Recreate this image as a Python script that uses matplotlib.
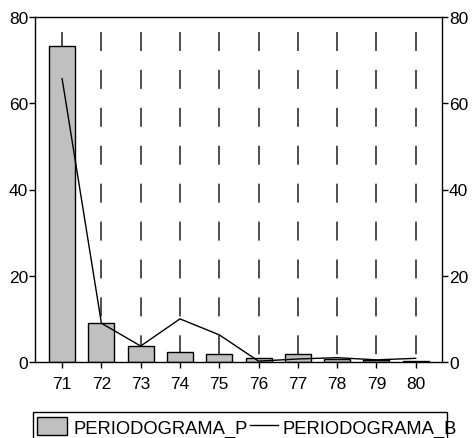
import numpy as np
import matplotlib
matplotlib.use('Agg')
import matplotlib.pyplot as plt
from matplotlib.patches import Rectangle
from matplotlib.lines import Line2D

plt.rcParams['font.family'] = ['Liberation Sans', 'DejaVu Sans']

# periodogram values per period
periods = ['71', '72', '73', '74', '75', '76', '77', '78', '79', '80']
periodograma_p = [73.3, 9.0, 3.8, 2.4, 1.8, 0.85, 1.8, 0.6, 0.35, 0.3]
periodograma_b = [65.7, 9.0, 3.7, 10.0, 6.3, 0.2, 0.7, 1.0, 0.5, 0.85]

W, H = 473, 439
fig = plt.figure(figsize=(W / 100, H / 100), dpi=100)
ax = fig.add_axes([35 / W, 1 - 363 / H, (442 - 35) / W, (363 - 18) / H])

x = np.arange(len(periods))

# dashed guides from the top down to zero
ax.vlines(x, 76.5, 0, colors='#404040', linewidth=1.3,
          linestyles=[(0, (10.5, 10.5))], zorder=1)

ax.bar(x, periodograma_p, width=0.66, color='#c0c0c0', edgecolor='black',
       linewidth=1.0, zorder=2)
ax.plot(x, periodograma_b, color='black', linewidth=1.0, zorder=3)

ax.set_xlim(-0.69, 9.67)
ax.set_ylim(0, 80)
ax.set_xticks(x)
ax.set_xticklabels(periods)
ax.set_yticks([0, 20, 40, 60, 80])

ax.tick_params(axis='y', which='both', direction='out', length=4, width=1,
               labelsize=12.5, left=True, right=True, labelleft=True,
               labelright=True, pad=1)
ax.tick_params(axis='x', direction='out', length=4, width=1,
               labelsize=12.5, pad=6, top=False)
for s in ax.spines.values():
    s.set_linewidth(1.0)

# legend box along the bottom
fig.patches.append(Rectangle((33 / W, -0.01), (447 - 33) / W, (1 - 413 / H) + 0.01,
                             transform=fig.transFigure, facecolor='white',
                             edgecolor='black', linewidth=1.0))
fig.patches.append(Rectangle((37 / W, 1 - 436 / H), 30 / W, 18 / H,
                             transform=fig.transFigure, facecolor='#c0c0c0',
                             edgecolor='black', linewidth=1.0))
fig.text(73 / W, 1 - 434 / H, 'PERIODOGRAMA_P', fontsize=13.2,
         va='baseline', ha='left')
fig.lines.append(Line2D([250 / W, 278 / W], [1 - 426 / H, 1 - 426 / H],
                        transform=fig.transFigure, color='black', linewidth=1.0))
fig.text(282 / W, 1 - 434 / H, 'PERIODOGRAMA_B', fontsize=13.2,
         va='baseline', ha='left')

fig.savefig('out.png', dpi=100)
